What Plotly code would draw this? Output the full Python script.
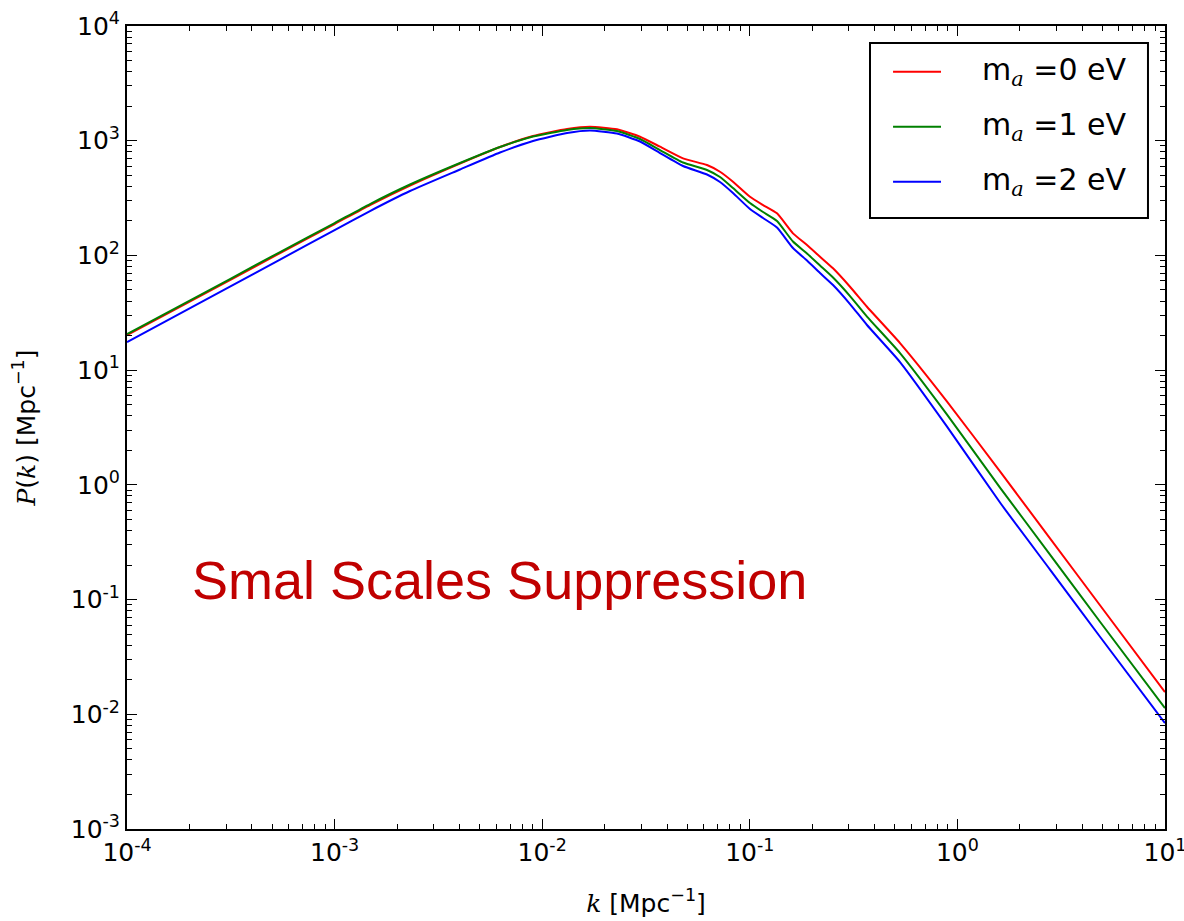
import plotly.graph_objects as go

# Wavenumber k [1/Mpc] and matter power spectra P(k) [Mpc^-1] for three axion masses
k = [1.0e-4, 3.133e-4, 5.46e-4, 1.0e-3, 1.481e-3, 2.308e-3, 4.018e-3, 6.26e-3, 9.03e-3,
     1.317e-2, 1.699e-2, 2.292e-2, 2.959e-2, 3.693e-2, 4.767e-2, 6.22e-2, 7.185e-2,
     8.298e-2, 0.1002, 0.1158, 0.1352, 0.1614, 0.1886, 0.2179, 0.2517, 0.3039, 0.3668,
     0.5291, 0.8879, 1.604, 2.793, 4.863, 10.0]

pk_m0 = [20.23, 61.03, 104.9, 187.8, 275.0, 406.9, 632.8, 881.5, 1099, 1265, 1325, 1257,
         1084, 886.8, 702.4, 614.0, 536.6, 439.1, 324.9, 275.0, 232.8, 155.8, 123.2,
         97.41, 77.18, 53.35, 35.70, 17.23, 5.378, 1.309, 0.3416, 0.0892, 0.01561]
pk_m1 = [20.64, 62.27, 107.1, 191.6, 280.6, 415.0, 639.2, 881.5, 1088, 1240, 1290, 1215,
         1035, 829.7, 645.4, 555.5, 482.5, 386.9, 286.3, 238.9, 199.5, 132.2, 103.9,
         81.64, 64.18, 44.26, 29.33, 14.10, 4.143, 0.9473, 0.2467, 0.06404, 0.01133]
pk_m2 = [17.58, 53.57, 92.0, 166.5, 243.8, 364.3, 561.0, 789.1, 994.1, 1167, 1227, 1156,
         984, 781.3, 601.9, 507.4, 436.4, 349.9, 253.8, 211.9, 175.1, 116.0, 90.27,
         70.24, 55.20, 37.70, 24.74, 11.77, 3.255, 0.7011, 0.1826, 0.04739, 0.008379]

labels = ["=0 eV", "=1 eV", "=2 eV"]
colors = ["#ff0000", "#008000", "#0000ff"]
series = [pk_m0, pk_m1, pk_m2]

x_exps = [-4, -3, -2, -1, 0, 1]
y_exps = [-3, -2, -1, 0, 1, 2, 3, 4]

TICK_FONT = dict(family="DejaVu Sans", size=25, color="#000000")
TITLE_FONT = dict(family="DejaVu Sans", size=25, color="#000000")
MATH = "<span style='font-family:DejaVu Serif'><i>{}</i></span>"


def minor_vals(exps):
    vals = []
    for e in exps[:-1]:
        vals.extend(m * 10.0 ** e for m in range(2, 10))
    return vals


fig = go.Figure()
for pk, color, lab in zip(series, colors, labels):
    fig.add_trace(go.Scatter(
        x=k, y=pk, mode="lines", name="m_a " + lab, showlegend=False,
        line=dict(color=color, width=2, shape="spline", smoothing=0.5),
    ))

axis_common = dict(
    type="log",
    automargin=False,
    showgrid=False,
    zeroline=False,
    showline=True,
    linecolor="#000000",
    linewidth=2,
    mirror="allticks",
    ticks="inside",
    ticklen=10,
    tickwidth=1.3,
    tickcolor="#000000",
    tickfont=TICK_FONT,
    ticklabeloverflow="allow",
)

fig.update_xaxes(
    **axis_common,
    range=[-4, 1],
    tickvals=[10.0 ** e for e in x_exps],
    ticktext=[f"10<sup>{e}</sup>" for e in x_exps],
    minor=dict(ticks="inside", ticklen=5, tickwidth=1, tickcolor="#000000",
               tickvals=minor_vals(x_exps), showgrid=False),
    title=dict(text=MATH.format("k") + " [Mpc<sup>\u22121</sup>]",
               font=TITLE_FONT, standoff=28),
)
fig.update_yaxes(
    **axis_common,
    range=[-3, 4],
    tickvals=[10.0 ** e for e in y_exps],
    ticktext=[f"10<sup>{e}</sup>" for e in y_exps],
    minor=dict(ticks="inside", ticklen=5, tickwidth=1, tickcolor="#000000",
               tickvals=minor_vals(y_exps), showgrid=False),
    title=dict(text=MATH.format("P") + "(" + MATH.format("k") + ") [Mpc<sup>\u22121</sup>]",
               font=TITLE_FONT, standoff=28),
)

# Legend box drawn in paper coordinates
fig.add_shape(type="rect", xref="paper", yref="paper",
              x0=0.7158, x1=0.9836, y0=0.7609, y1=0.9788,
              line=dict(color="#000000", width=2), fillcolor="#ffffff", layer="above")
row_y = [0.9431, 0.8746, 0.8061]
for yy, color, lab in zip(row_y, colors, labels):
    fig.add_shape(type="line", xref="paper", yref="paper",
                  x0=0.7380, x1=0.7842, y0=yy, y1=yy,
                  line=dict(color=color, width=2), layer="above")
    fig.add_annotation(
        x=0.8218, y=yy, xref="paper", yref="paper", xanchor="left", yanchor="middle",
        text="m<sub>" + MATH.format("a") + "</sub> " + lab, showarrow=False,
        font=dict(family="DejaVu Sans", size=30, color="#000000"),
    )

fig.add_annotation(
    x=0.0607, y=0.31, xref="paper", yref="paper", xanchor="left", yanchor="middle",
    text="Smal Scales Suppression", showarrow=False,
    font=dict(family="Liberation Sans, Arial", size=54, color="#c00000"),
)

fig.update_layout(
    width=1184, height=921,
    margin=dict(l=127, r=19, t=26, b=92),
    paper_bgcolor="#ffffff",
    plot_bgcolor="#ffffff",
    showlegend=False,
)

fig.write_html("out.html")
